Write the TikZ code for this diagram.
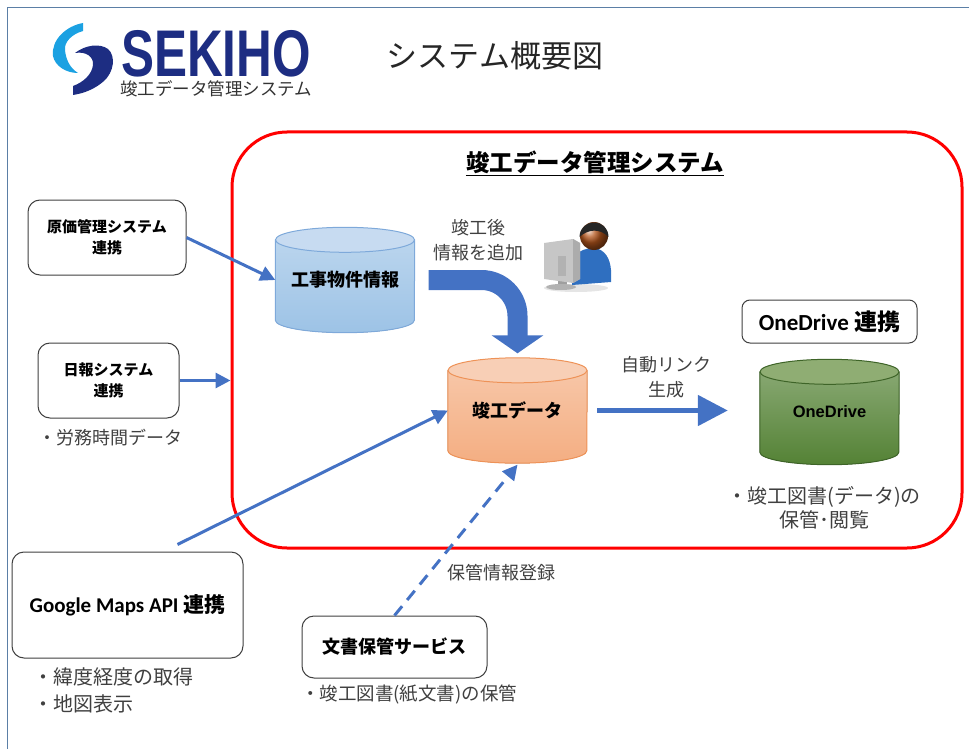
\documentclass[tikz,border=0pt]{standalone}
\usepackage{fontspec}
\usepackage{graphicx}
\setmainfont{Noto Sans CJK JP}
\newfontfamily\calfont{Carlito}
\newfontfamily\arialfont{Liberation Sans}
\usetikzlibrary{arrows.meta,calc}
\pgfdeclarelayer{background}
\pgfsetlayers{background,main}

\definecolor{linkblue}{HTML}{4472C4}
\definecolor{boxgray}{HTML}{404040}
\definecolor{notegray}{HTML}{404040}
\definecolor{framecol}{HTML}{5B7FA6}
\definecolor{logonavy}{HTML}{1D2D82}
\definecolor{logocyan}{HTML}{1BA1E2}
\definecolor{kojibody}{HTML}{9DC3E6}
\definecolor{kojilid}{HTML}{C7DBF1}
\definecolor{kojirim}{HTML}{7EA9DA}
\definecolor{kankobody}{HTML}{F4AE82}
\definecolor{kankolid}{HTML}{F8CFB6}
\definecolor{kankorim}{HTML}{EE9257}
\definecolor{odbody}{HTML}{548235}
\definecolor{odlid}{HTML}{8FAD73}
\definecolor{odrim}{HTML}{3E6428}
\definecolor{shirtblue}{HTML}{2F6FC0}
\definecolor{skin}{HTML}{B5561C}

% drum: name, position, body, lid, rim, text
\newcommand{\drum}[6]{%
  \node[drumbody] (#1) at #2 {#6};
  \begin{pgfonlayer}{background}
    \fill[top color=#3!70!white, bottom color=#3] (#1.north west) -- (#1.south west)
      arc[start angle=180, end angle=360, x radius=69.5pt, y radius=12.5pt] -- (#1.north east) -- cycle;
    \draw[#5, line width=1pt] (#1.north west) -- (#1.south west)
      arc[start angle=180, end angle=360, x radius=69.5pt, y radius=12.5pt] -- (#1.north east);
    \filldraw[fill=#4, draw=#5, line width=1pt] (#1.north) ellipse [x radius=69.5pt, y radius=12.5pt];
  \end{pgfonlayer}}

\begin{document}
\begin{tikzpicture}[x=1pt,y=-1pt,
  box/.style={draw=boxgray, line width=1pt, rounded corners=12pt, fill=white, align=center,
    font=\bfseries\fontsize{15}{21}\selectfont},
  note/.style={text=notegray, align=center, font=\fontsize{18}{25}\selectfont},
  drumbody/.style={minimum width=139pt, minimum height=80pt, inner sep=0pt,
    font=\bfseries\fontsize{18}{22}\selectfont},
  link/.style={draw=linkblue, line width=3pt, -{Triangle[length=15pt 0 0, width=15pt 0 0]}},
  fat/.style={draw=linkblue, line width=20pt, rounded corners=36pt,
    -{Triangle[length=18pt 0 0, width=51pt 0 0]}}]

\useasboundingbox (0,0) rectangle (969,749);
\draw[framecol, line width=1pt] (7,749) -- (7,8) -- (969,8);

% logo
\fill[logocyan] (83,23) -- (83,31) .. controls (72,34) and (64,42) .. (65,50) .. controls (66,60) and (70,68) .. (78,73)
  .. controls (66,73) and (55,66) .. (53,56) .. controls (51,40) and (66,26) .. (83,23) -- cycle;
\fill[logonavy] (75,53) .. controls (85,45) and (100,43) .. (108,49) .. controls (116,56) and (114,72) .. (104,81)
  .. controls (96,88) and (86,93) .. (73,95) -- (73,86) .. controls (84,82) and (92,74) .. (93,65)
  .. controls (94,57) and (86,51) .. (75,53) -- cycle;
\node[text=logonavy, font=\arialfont\bfseries\fontsize{66}{66}\selectfont, inner sep=0pt] (sekiho) at (216,54)
  {\scalebox{0.75}[1]{SEKIHO}};
\node[text=black!80, font=\fontsize{17.5}{20}\selectfont, inner sep=0pt] (logosub) at (216,88.5) {竣工データ管理システム};

\node[text=black!85, font=\fontsize{31}{34}\selectfont] (title) at (495,56) {システム概要図};

% system frame
\node[draw=red, line width=3pt, rounded corners=55pt, minimum width=730pt, minimum height=416pt] (sys) at (597,340) {};
\node[font=\bfseries\fontsize{23.5}{26}\selectfont, inner xsep=0pt, inner ysep=2pt] (head) at (595,162) {竣工データ管理システム};
\draw[line width=1.5pt] (head.south west) -- (head.south east);

\drum{koji}{(345,280)}{kojibody}{kojilid}{kojirim}{工事物件情報}
\drum{kanko}{(517.5,410.5)}{kankobody}{kankolid}{kankorim}{竣工データ}
\drum{od}{(829.5,412)}{odbody}{odlid}{odrim}{\arialfont\fontsize{16.5}{20}\selectfont OneDrive}

\node[box, rounded corners=8pt, minimum width=175pt, minimum height=43pt, font=\bfseries\fontsize{23}{26}\selectfont]
  (odlink) at (829.5,321.5) {{\calfont OneDrive} 連携};
\node[note, font=\fontsize{20}{24}\selectfont] (odnote) at (824,508) {・竣工図書(データ)の\\保管･閲覧};

\node[note] (addnote) at (478,240.5) {竣工後\\情報を追加};
\node[note] (autonote) at (666,377.5) {自動リンク\\生成};

% operator
\fill[black!10] (576,288) ellipse [x radius=32pt, y radius=4pt];
\fill[shirtblue] (572,285) -- (572,262) .. controls (575,252) and (584,248) .. (595,248)
  .. controls (605,250) and (610,258) .. (611,270) -- (611,282) -- cycle;
\shade[ball color=skin] (594,236) circle [radius=14pt];
\fill[black!85] (579.5,237) arc[start angle=180, end angle=0, radius=14.5pt]
  .. controls (600,228) and (588,229) .. (579.5,237) -- cycle;
\fill[gray!75] (558,266) rectangle (567,285);
\fill[gray!60] (561,287) ellipse [x radius=15pt, y radius=3pt];
\fill[gray!45] (544,243) -- (573,239) -- (580,243) -- (580,279) -- (573,283) -- (544,279) -- cycle;
\fill[gray!65] (573,239) -- (580,243) -- (580,279) -- (573,283) -- cycle;
\fill[gray!60] (558,256) rectangle (566,276);

% outside systems
\node[box, minimum width=158pt, minimum height=75pt] (genka) at (107,237.5) {原価管理システム\\連携};
\node[box, minimum width=141pt, minimum height=75pt] (nippo) at (108.5,380.5) {日報システム\\連携};
\node[note] (nippocap) at (110,438) {・労務時間データ};
\node[box, minimum width=231pt, minimum height=106pt, font=\bfseries\fontsize{21}{24}\selectfont]
  (gmap) at (127.5,605) {{\calfont Google Maps API} 連携};
\node[note, align=left, anchor=west, font=\fontsize{20}{27}\selectfont] (gmapcap) at (30,690.5) {・緯度経度の取得\\・地図表示};
\node[box, minimum width=185pt, minimum height=62pt, font=\bfseries\fontsize{18}{22}\selectfont]
  (bunsho) at (394.5,647) {文書保管サービス};
\node[note, font=\fontsize{18.5}{22}\selectfont] (bunshocap) at (409,694) {・竣工図書(紙文書)の保管};
\node[note] (storenote) at (501,573) {保管情報登録};

% links
\draw[link] (genka.east) -- (koji.west);
\draw[link] (nippo.east) -- (nippo.east -| sys.west);
\draw[link] ([xshift=50pt,yshift=7pt]gmap.north) -- (kanko.west);
\draw[link, dash pattern=on 12pt off 8pt] (bunsho.north) -- ([yshift=-14pt]kanko.south);
\draw[fat] ([xshift=14pt]koji.east) -| ([yshift=17pt]kanko.north);
\draw[draw=linkblue, line width=5pt, -{Triangle[length=30pt 0 0, width=30pt 0 0]}, shorten <=10pt, shorten >=32pt]
  (kanko.east) -- (kanko.east -| od.west);

\end{tikzpicture}
\end{document}
